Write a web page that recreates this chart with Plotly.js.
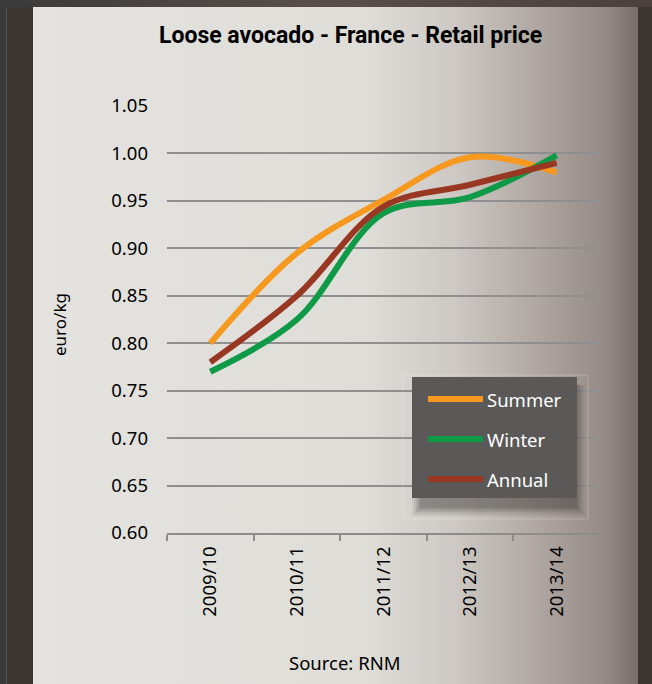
<!DOCTYPE html>
<html>
<head>
<meta charset="utf-8">
<script src="https://cdn.plot.ly/plotly-3.0.1.min.js"></script>
<style>
  html, body { margin:0; padding:0; width:652px; height:684px; overflow:hidden; background:#3d3532; }
  #strip { position:absolute; left:0; top:0; width:6px; height:684px; background:#3a3a3a; border-right:1px solid #555; }
  #topbar { position:absolute; left:0; top:0; width:652px; height:7px; background:linear-gradient(to right,#3a3a3a,#5a4e4a 50%,#4a403c); }
  #chart { position:absolute; left:33px; top:7px; width:605px; height:677px;
    background:linear-gradient(to right,#e4e3df 0%,#dfddd8 55%,#cdc8c3 70%,#b2aaa5 82%,#978c87 94%,#7a6e69 100%); }
</style>
</head>
<body>
<div id="strip"></div>
<div id="topbar"></div>
<div id="chart"></div>
<script>
const seasons = ["2009/10","2010/11","2011/12","2012/13","2013/14"];
const seriesNames = ["Summer","Winter","Annual"];
const summer = [0.80, 0.895, 0.951, 0.996, 0.98];
const winter = [0.77, 0.825, 0.937, 0.954, 0.998];
const annual = [0.78, 0.850, 0.944, 0.967, 0.990];
const colors = ["#F7981F","#0F9A47","#983822"];
const yTicks = [0.60,0.65,0.70,0.75,0.80,0.85,0.90,0.95,1.00,1.05];

const allSeries = [summer, winter, annual];
const traces = allSeries.map((vals,i)=>({
  type:"scatter", mode:"lines", x:seasons, y:vals, name:seriesNames[i],
  line:{color:colors[i], width:6, shape:"spline", smoothing:1},
  showlegend:false, hoverinfo:"x+y+name"
}));

const W = 605, H = 677;
const mL = 134, mR = 38, mT = 99, mB = 151;
const pw = W - mL - mR, ph = H - mT - mB;
function px(x){ return (x - mL)/pw; }
function py(y){ return 1 - (y - mT)/ph; }

const FONT = "Noto Sans, sans-serif";
const lx0 = 379, lx1 = 544, ly0 = 370, ly1 = 491;
const shapes = [];
shapes.push({type:"rect", xref:"paper", yref:"paper", x0:px(370), x1:px(555), y0:py(368), y1:py(512),
  line:{color:"rgba(255,255,255,0.22)", width:1}, fillcolor:"rgba(0,0,0,0)", layer:"above"});
const sh = [[10,0.06],[8,0.08],[6,0.10],[4,0.12],[2,0.14]];
sh.forEach(([d,a])=>{
  shapes.push({type:"rect", xref:"paper", yref:"paper", x0:px(lx0+10-d), x1:px(lx1-2+d), y0:py(ly0+8), y1:py(ly1+8+d),
    line:{width:0}, fillcolor:"rgba(40,35,33,"+a+")", layer:"above"});
});
shapes.push({type:"rect", xref:"paper", yref:"paper", x0:px(lx0), x1:px(lx1), y0:py(ly0), y1:py(ly1),
  line:{width:0}, fillcolor:"#5a5957", layer:"above"});
const annotations = [];
seriesNames.forEach((n,i)=>{
  const yy = 392 + i*40;
  shapes.push({type:"line", xref:"paper", yref:"paper", x0:px(395), x1:px(450), y0:py(yy), y1:py(yy),
    line:{color:colors[i], width:6}, layer:"above"});
  annotations.push({xref:"paper", yref:"paper", x:px(452), y:py(yy), xanchor:"left", yanchor:"middle",
    text:n, showarrow:false, font:{family:FONT, size:18.5, color:"#ffffff"}});
});
annotations.push({xref:"paper", yref:"paper", x:px(317), y:py(28), xanchor:"center", yanchor:"middle",
  text:"<b>Loose avocado - France - Retail price</b>", showarrow:false,
  font:{family:"Roboto, sans-serif", size:23, color:"#000000"}});
annotations.push({xref:"paper", yref:"paper", x:px(26), y:py(318), xanchor:"center", yanchor:"middle",
  text:"euro/kg", textangle:-90, showarrow:false,
  font:{family:FONT, size:17, color:"#000000"}});
annotations.push({xref:"paper", yref:"paper", x:px(311), y:py(655), xanchor:"center", yanchor:"middle",
  text:"Source: RNM", showarrow:false,
  font:{family:FONT, size:18.5, color:"#000000"}});

const layout = {
  width:W, height:H,
  margin:{l:mL, r:mR, t:mT, b:mB, pad:0},
  paper_bgcolor:"rgba(0,0,0,0)", plot_bgcolor:"rgba(0,0,0,0)",
  showlegend:false,
  xaxis:{type:"category", range:[-0.5,4.5], tickson:"boundaries", ticks:"outside", ticklen:6, tickwidth:2,
    tickcolor:"#8c8c8c", showline:true, linecolor:"#8c8c8c", linewidth:2, showgrid:false, zeroline:false,
    tickangle:-90, ticklabelstandoff:4,
    tickfont:{family:FONT, size:18.5, color:"#000000"}, fixedrange:true},
  yaxis:{range:[0.6,1.05], tickvals:yTicks, ticktext:yTicks.map(v=>v.toFixed(2)), ticks:"", showline:false,
    showgrid:true, gridcolor:"#8f8f8f", gridwidth:2, zeroline:false, ticklabelstandoff:18,
    tickfont:{family:FONT, size:18.5, color:"#000000"}, fixedrange:true},
  shapes:shapes, annotations:annotations
};
Plotly.newPlot("chart", traces, layout, {displayModeBar:false, staticPlot:true});
</script>
</body>
</html>
